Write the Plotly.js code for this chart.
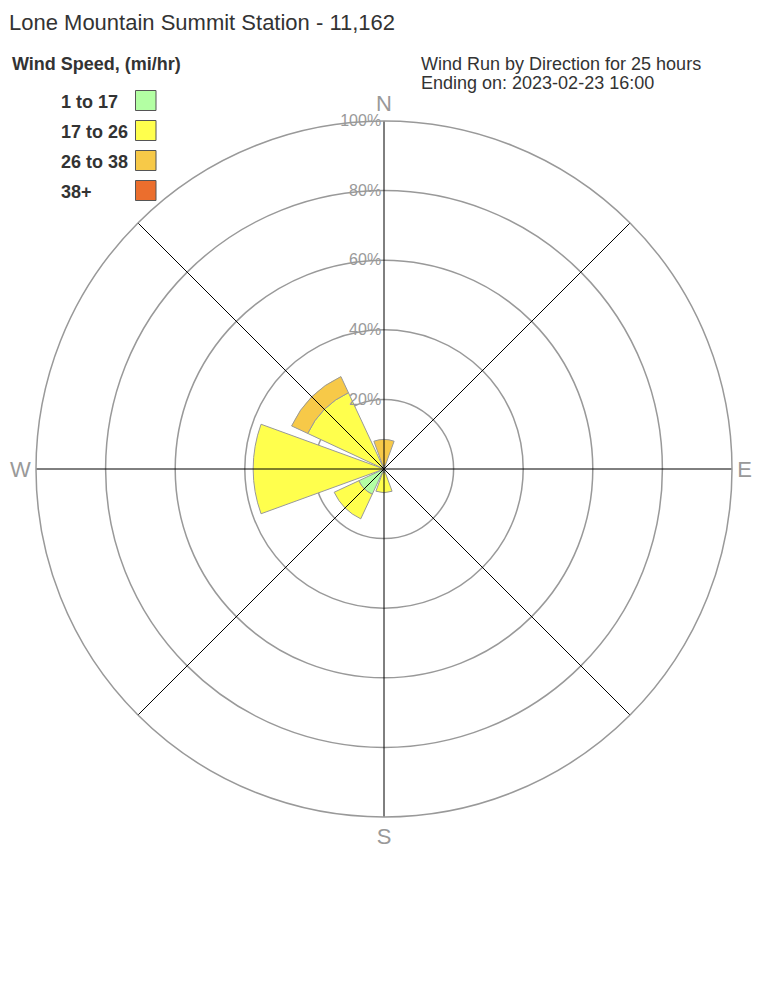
<!DOCTYPE html>
<html>
<head>
<meta charset="utf-8">
<script src="https://cdn.plot.ly/plotly-3.0.1.min.js"></script>
<style>html,body{margin:0;padding:0;background:#fff;}#chart{width:768px;height:1008px;}</style>
</head>
<body>
<div id="chart"></div>
<script>
// Directions (compass degrees) and labels
const directions = ['N','NE','E','SE','S','SW','W','NW'];
const thetaDeg = [0,45,90,135,180,225,270,315];
// Speed bins (percent of wind run, stacked from the centre)
const speedBins = ['1 to 17','17 to 26','26 to 38','38+'];
const binColors = ['#b3ffa3','#ffff4d','#f7c948','#eb6e2d'];
const bin1to17  = [0.0, 0, 0, 0, 1.0, 8.0, 0.0, 0.0];
const bin17to26 = [1.0, 0, 0, 0, 5.8, 7.8, 37.6, 24.2];
const bin26to38 = [7.5, 0, 0, 0, 0.0, 0.0, 0.0, 5.1];
const bin38plus = [0.0, 0, 0, 0, 0.0, 0.0, 0.0, 0.0];
const binValues = [bin1to17, bin17to26, bin26to38, bin38plus];
// Radial ticks
const radialTicks = [20,40,60,80,100];
const compassLabels = ['N','','E','','S','','W',''];
const subtitleLines = ['Wind Run by Direction for 25 hours','Ending on: 2023-02-23 16:00'];

const traces = speedBins.map((name,i)=>({
  type:'barpolar', name:name, r:binValues[i], theta:thetaDeg, width:40,
  marker:{color:binColors[i], line:{color:'#999999', width:1}},
  showlegend:false, hoverinfo:'name+r+theta'
}));

// spokes drawn above the bars
const spokeR=[], spokeT=[];
thetaDeg.forEach(t=>{spokeR.push(0,100,null);spokeT.push(t,t,null);});
traces.push({type:'scatterpolar', mode:'lines', r:spokeR, theta:spokeT,
  line:{color:'#000', width:1}, showlegend:false, hoverinfo:'skip'});

const cx=384, cy=469, R=348, W=768, H=1008;
const FONT='Arial, Liberation Sans, sans-serif';
const annotations=[
  {text:'<b>Wind Speed, (mi/hr)</b>', x:10/W, y:1-64/H, xref:'paper', yref:'paper', xanchor:'left', yanchor:'middle', showarrow:false,
   font:{family:FONT, size:18, color:'#333'}}
];
subtitleLines.forEach((t,i)=>{
  annotations.push({text:t, x:419/W, y:1-(64+i*19)/H, xref:'paper', yref:'paper',
   xanchor:'left', yanchor:'middle', align:'left', showarrow:false,
   font:{family:FONT, size:18, color:'#333'}});
});
const shapes=[];
speedBins.forEach((name,i)=>{
  const yc=100.5+i*30;
  annotations.push({text:'<b>'+name+'</b>', x:59/W, y:1-(yc+1.5)/H, xref:'paper', yref:'paper', xanchor:'left', yanchor:'middle',
    showarrow:false, font:{family:FONT, size:18, color:'#333'}});
  shapes.push({type:'rect', xref:'paper', yref:'paper', x0:135.5/W, x1:156/W, y0:1-(yc+10)/H, y1:1-(yc-10)/H,
    fillcolor:binColors[i], line:{color:'#555', width:1}});
});

const layout={
  width:W, height:H, margin:{l:0,r:0,t:0,b:0}, paper_bgcolor:'#fff', showlegend:false,
  font:{family:FONT, color:'#333'},
  title:{text:'Lone Mountain Summit Station - 11,162', x:9/W, xanchor:'left', xref:'paper', y:1-22/H, yanchor:'middle',
    font:{family:FONT, size:22, color:'#333'}},
  polar:{
    domain:{x:[(cx-R)/W,(cx+R)/W], y:[1-(cy+R)/H, 1-(cy-R)/H]},
    bgcolor:'rgba(0,0,0,0)', barmode:'stack',
    radialaxis:{range:[0,100], tickvals:radialTicks, ticktext:radialTicks.map(v=>v+'%'), angle:90, tickangle:90,
      side:'counterclockwise', showline:false, ticks:'', gridcolor:'#999', gridwidth:1.5,
      tickfont:{size:16, color:'#999', family:FONT}},
    angularaxis:{rotation:90, direction:'clockwise', tickvals:thetaDeg, ticktext:compassLabels, showgrid:false,
      showline:true, linecolor:'#999', linewidth:1.5, ticks:'',
      tickfont:{size:22, color:'#999', family:FONT}}
  },
  annotations:annotations, shapes:shapes
};
Plotly.newPlot('chart', traces, layout, {displayModeBar:false, staticPlot:true});
</script>
</body>
</html>
